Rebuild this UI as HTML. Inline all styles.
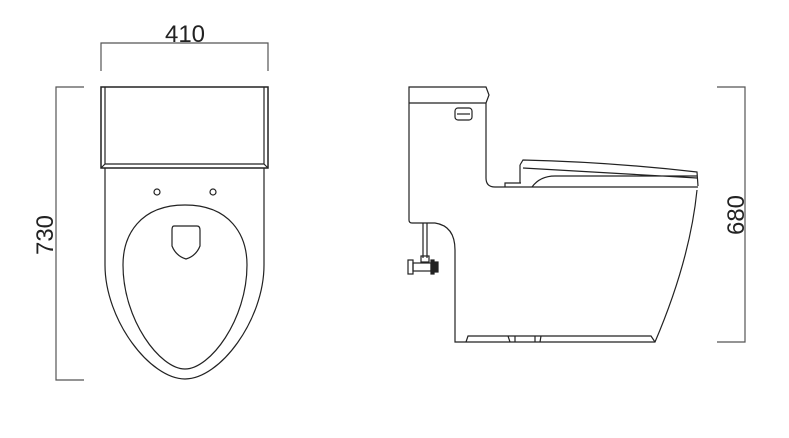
<!DOCTYPE html>
<html><head><style>body{margin:0;background:#fff}svg{display:block}</style></head><body>
<svg width="789" height="438" viewBox="0 0 789 438" xmlns="http://www.w3.org/2000/svg" fill="none" stroke="#222" stroke-width="1.2">
<path d="M101 71V43H268V71" stroke="#555"/>
<text x="185" y="42" font-family="Liberation Sans, sans-serif" font-size="24" fill="#222" stroke="none" text-anchor="middle">410</text>
<path d="M84 87H56V380H84" stroke="#555"/>
<text transform="translate(53,235) rotate(-90)" font-family="Liberation Sans, sans-serif" font-size="24" fill="#222" stroke="none" text-anchor="middle">730</text>
<rect x="101" y="87" width="167" height="81" stroke-width="1.5"/>
<path d="M105 87V164H264V87M101 168L105 164M268 168L264 164"/>
<path d="M105 168V265C105 320 150 379 185 379C220 379 264 320 264 265V168"/>
<circle cx="157" cy="192" r="3"/><circle cx="213" cy="192" r="3"/>
<path d="M185 205C140 205 123 235 123 265C123 320 160 369 185 369C210 369 247 320 247 265C247 235 230 205 185 205Z"/>
<path d="M174 226H197Q200 226 200 230V246Q196 256 186 259Q176 256 172 246V230Q172 226 174 226Z"/>
<path d="M409 103V87H486L489 95L486 103H409"/>
<rect x="455" y="108" width="17" height="12" rx="3"/>
<path d="M457 114H470"/>
<path d="M409 103V220Q409 223 412 223H435Q455 226 455 250V342H655Q690 260 697 190"/>
<path d="M486 103V178Q486 187 495 187H698"/>
<path d="M505 187V183H521M520 165L523 160Q610 162 697 172L698 186M523 168L697 178M532 187Q540 176 555 176H697"/>
<path d="M520 165V183"/>
<path d="M466 342L468 336H651L655 342M508 336L510 342M515 336V342M535 336V342M541 336L540 342"/>
<path d="M423 223V258M427 223V258"/>
<rect x="408" y="260" width="5" height="14"/>
<rect x="413" y="263" width="18" height="8"/>
<rect x="421" y="256" width="8" height="6"/>
<rect x="431" y="260" width="3" height="14" fill="#222"/>
<rect x="434" y="262" width="4" height="10" fill="#222"/>
<path d="M717 87H745V342H717" stroke="#555"/>
<text transform="translate(744,215) rotate(-90)" font-family="Liberation Sans, sans-serif" font-size="24" fill="#222" stroke="none" text-anchor="middle">680</text>
</svg>
</body></html>
